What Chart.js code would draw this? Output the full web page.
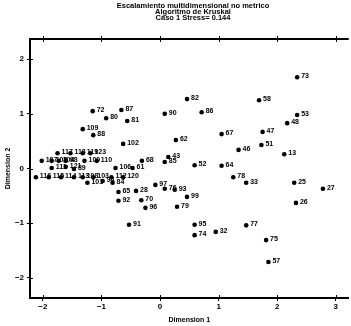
<!DOCTYPE html>
<html>
<head>
<meta charset="utf-8">
<script src="https://cdn.jsdelivr.net/npm/chart.js@4.4.1/dist/chart.umd.min.js"></script>
<style>
  html, body { margin: 0; padding: 0; background: #fff; }
  #wrap { width: 351px; height: 326px; }
</style>
</head>
<body>
<div id="wrap"><canvas id="chart" width="351" height="326"></canvas></div>
<script>
const titleLines = ['Escalamiento multidimensional no metrico', 'Algoritmo de Kruskal', 'Caso 1 Stress= 0.144'];
const xTicks = [-2, -1, 0, 1, 2, 3];
const yTicks = [-2, -1, 0, 1, 2];

// case numbers and their coordinates in the two dimensions
const caseLabels = [
    '73', '58', '53', '48', '47', '67', '51', '46', '13', '86',
    '82', '90', '87', '72', '80', '81', '109', '88', '102', '62',
    '43', '85', '68', '52', '106', '61', '64', '78', '33', '25',
    '27', '26', '77', '75', '57', '32', '74', '95', '91', '79',
    '99', '93', '97', '76', '65', '28', '92', '70', '96', '117',
    '118', '119', '123', '107', '105', '104', '98', '100', '110', '111',
    '121', '89', '116', '115', '114', '113', '108', '103', '112', '120',
    '101', '94', '84'
];
const dim1 = [
    2.34, 1.69, 2.34, 2.17, 1.75, 1.05, 1.73, 1.34, 2.12, 0.71,
    0.46, 0.08, -0.66, -1.15, -0.92, -0.56, -1.32, -1.14, -0.63, 0.27,
    0.14, 0.08, -0.31, 0.59, -0.76, -0.47, 1.05, 1.25, 1.47, 2.29,
    2.78, 2.32, 1.47, 1.81, 1.85, 0.95, 0.59, 0.59, -0.53, 0.29,
    0.46, 0.25, -0.08, 0.08, -0.71, -0.41, -0.71, -0.32, -0.25, -1.75,
    -1.53, -1.32, -1.19, -2.02, -1.85, -1.73, -1.61, -1.29, -1.08, -1.85,
    -1.61, -1.47, -2.12, -1.90, -1.69, -1.47, -1.32, -1.14, -0.83, -0.63,
    -1.24, -0.98, -0.81
];
const dim2 = [
    1.67, 1.25, 0.98, 0.83, 0.67, 0.63, 0.43, 0.34, 0.26, 1.03,
    1.27, 1.00, 1.07, 1.05, 0.92, 0.87, 0.72, 0.61, 0.45, 0.52,
    0.21, 0.12, 0.14, 0.06, 0.01, 0.01, 0.05, -0.16, -0.26, -0.26,
    -0.37, -0.63, -1.04, -1.31, -1.71, -1.16, -1.22, -1.03, -1.03, -0.70,
    -0.52, -0.39, -0.30, -0.37, -0.43, -0.41, -0.59, -0.58, -0.72, 0.28,
    0.28, 0.28, 0.28, 0.14, 0.14, 0.14, 0.14, 0.14, 0.14, 0.01,
    0.03, -0.01, -0.16, -0.16, -0.16, -0.16, -0.16, -0.16, -0.16, -0.16,
    -0.26, -0.23, -0.26
];

const points = caseLabels.map((lab, i) => ({ x: dim1[i], y: dim2[i] }));

const BOLD = 'bold 7px "Liberation Sans", Arial, sans-serif';

// point labels, frame top line, ticks crossing the axes, title
const extras = {
    id: 'extras',
    afterDatasetsDraw(chart) {
        const ctx = chart.ctx;
        const meta = chart.getDatasetMeta(0);
        ctx.save();
        ctx.fillStyle = '#000';
        ctx.font = BOLD;
        ctx.textBaseline = 'middle';
        ctx.textAlign = 'left';
        meta.data.forEach((el, i) => {
            ctx.fillText(caseLabels[i], el.x + 4, el.y - 1);
        });
        ctx.restore();
    },
    afterDraw(chart) {
        const ctx = chart.ctx;
        const area = chart.chartArea;
        const xs = chart.scales.x;
        const ys = chart.scales.y;
        ctx.save();
        ctx.strokeStyle = '#000';
        ctx.lineWidth = 2;
        ctx.beginPath();
        ctx.moveTo(area.left, area.top);
        ctx.lineTo(area.right, area.top);
        ctx.stroke();

        ctx.lineWidth = 1;
        ctx.beginPath();
        xTicks.forEach(v => {
            const px = Math.round(xs.getPixelForValue(v)) + 0.5;
            ctx.moveTo(px, area.bottom - 3);
            ctx.lineTo(px, area.bottom);
            ctx.moveTo(px, area.top - 3);
            ctx.lineTo(px, area.top + 3);
        });
        yTicks.forEach(v => {
            const py = Math.round(ys.getPixelForValue(v)) + 0.5;
            ctx.moveTo(area.left, py);
            ctx.lineTo(area.left + 3, py);
        });
        ctx.stroke();

        ctx.fillStyle = '#000';
        ctx.font = 'bold 7.5px "Liberation Sans", Arial, sans-serif';
        ctx.textAlign = 'center';
        ctx.textBaseline = 'middle';
        titleLines.forEach((t, i) => {
            ctx.fillText(t, 193, 6 + i * 6);
        });
        ctx.restore();
    }
};

new Chart(document.getElementById('chart').getContext('2d'), {
    type: 'scatter',
    data: {
        datasets: [{
            data: points,
            backgroundColor: '#000',
            borderColor: '#000',
            pointRadius: 2.3,
            pointBorderWidth: 0,
            pointHoverRadius: 2.3
        }]
    },
    options: {
        responsive: false,
        animation: false,
        events: [],
        layout: { padding: { top: 39, right: 0, left: 0, bottom: 0 } },
        plugins: {
            legend: { display: false },
            tooltip: { enabled: false },
            title: { display: false }
        },
        scales: {
            x: {
                type: 'linear',
                position: 'bottom',
                min: -2.22,
                max: 3.22,
                afterBuildTicks: s => { s.ticks = xTicks.map(v => ({ value: v })); },
                afterFit: s => { s.height = 28; },
                ticks: {
                    color: '#000',
                    padding: 1,
                    maxRotation: 0,
                    font: { family: '"Liberation Sans", Arial, sans-serif', size: 8, weight: 'bold' },
                    callback: v => (v < 0 ? '\u2212' + Math.abs(v) : String(v))
                },
                grid: { drawOnChartArea: false, color: '#000', tickLength: 3 },
                border: { display: true, color: '#000', width: 2 },
                title: {
                    display: true,
                    text: 'Dimension 1',
                    color: '#000',
                    padding: { top: 0, bottom: 2 },
                    font: { family: '"Liberation Sans", Arial, sans-serif', size: 7, weight: 'bold' }
                }
            },
            y: {
                type: 'linear',
                min: -2.37,
                max: 2.37,
                afterBuildTicks: s => { s.ticks = yTicks.map(v => ({ value: v })); },
                afterFit: s => { s.width = 30; },
                ticks: {
                    color: '#000',
                    padding: 3,
                    font: { family: '"Liberation Sans", Arial, sans-serif', size: 8, weight: 'bold' },
                    callback: v => (v < 0 ? '\u2212' + Math.abs(v) : String(v))
                },
                grid: { drawOnChartArea: false, color: '#000', tickLength: 3 },
                border: { display: true, color: '#000', width: 2 },
                title: {
                    display: true,
                    text: 'Dimension 2',
                    color: '#000',
                    padding: { top: 4, bottom: 0 },
                    font: { family: '"Liberation Sans", Arial, sans-serif', size: 7, weight: 'bold' }
                }
            }
        }
    },
    plugins: [extras]
});
</script>
</body>
</html>
